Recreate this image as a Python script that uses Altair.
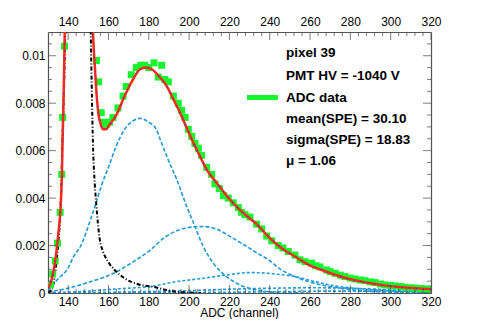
import altair as alt
import pandas as pd

# ---------------- data ----------------
# ADC data (green squares)
data_x = [131.2, 132.3, 133.6, 134.7, 136.0, 136.8, 137.3, 138.2, 154.0, 155.1,
          156.4, 157.6, 158.9, 160.5, 162.2, 164.7, 167.2, 168.8, 171.3, 173.8,
          176, 178, 180, 182.6, 184.7, 186.4, 188, 189.7, 192.2, 194.6,
          196.3, 198, 199.6, 201.3, 202.9, 204.6, 206.2, 208.7, 211.2, 212.8,
          215, 217, 219.4, 221.9, 224.4, 226, 227.7, 230.2, 233.5, 236,
          238.5, 241, 244.2, 246.5, 249.2, 252.5, 255, 257.5, 260.8, 262.8,
          264.9, 268.2, 270, 272.4, 275, 277.3, 280, 282.3, 285, 287.2,
          290, 292.2, 295, 297.2, 300, 302.1, 305, 307.1, 310, 312,
          315, 317.8, 319.5]
data_y = [0.00035, 0.0008, 0.00135, 0.0021, 0.0034, 0.0050, 0.0074, 0.0104, 0.0098, 0.0089,
          0.0076, 0.0072, 0.0071, 0.0072, 0.0074, 0.0078, 0.0083, 0.0087, 0.0092, 0.0095,
          0.0096, 0.0096, 0.0095, 0.0097, 0.0091, 0.0096, 0.0090, 0.0089, 0.0083, 0.0080,
          0.0077, 0.0074, 0.0069, 0.0066, 0.0063, 0.0061, 0.0058, 0.0053, 0.0050, 0.0046,
          0.0044, 0.0041, 0.0040, 0.0038, 0.0036, 0.0034, 0.0033, 0.0032, 0.0029, 0.0027,
          0.0024, 0.0022, 0.0020, 0.0019, 0.00175, 0.0016, 0.0014, 0.00132, 0.00126, 0.00115,
          0.0011, 0.00097, 0.0009, 0.00083, 0.00075, 0.00069, 0.00063, 0.00059, 0.00055, 0.00052,
          0.00047, 0.00044, 0.00038, 0.00034, 0.00032, 0.0003, 0.00027, 0.00024, 0.00022, 0.00021,
          0.00019, 0.00017, 0.00016]

# total fit (red)
fit_x = [130, 131.6, 133.3, 135.0, 136.3, 136.9, 137.2, 137.8, 138.3, 139.5,
         145, 151, 152.3, 153.2, 154.0, 155.1, 156.2, 157.3, 158.8, 160.6,
         163.9, 168.0, 172.2, 175.5, 178.5, 181.5, 185.6, 188.9, 192.2, 195.5,
         198.8, 202.1, 205.4, 208.7, 213.7, 220.3, 226.9, 233.5, 239.3, 245.9,
         252.5, 259.1, 265.8, 272.4, 279.0, 285.6, 292.2, 298.8, 305.4, 312.0, 320]
fit_y = [0.0002, 0.0005, 0.0012, 0.0024, 0.0037, 0.0050, 0.0063, 0.0085, 0.011, 0.016,
         0.04, 0.016, 0.011, 0.0096, 0.0085, 0.0075, 0.0071, 0.0069, 0.0069, 0.0071,
         0.0075, 0.0083, 0.0090, 0.00942, 0.0095, 0.00943, 0.00908, 0.00872, 0.00816, 0.0076,
         0.00696, 0.00633, 0.00576, 0.0052, 0.00464, 0.00393, 0.00337, 0.0029, 0.00238, 0.00189,
         0.00154, 0.0012, 0.00097, 0.00077, 0.0006, 0.00048, 0.00038, 0.0003, 0.00024, 0.0002, 0.00016]

# pedestal (black)
ped_x = [130, 132, 133.5, 134.3, 135.2, 136.0, 136.6, 137.1, 137.9, 138.6,
         140, 145, 150, 151.2, 151.8, 152.3, 153.2, 154.0, 154.8, 155.6,
         157.3, 159.8, 163.1, 168.0, 174.6, 182.9, 188, 193, 200, 206]
ped_y = [0.00002, 0.0002, 0.0008, 0.0014, 0.0022, 0.0032, 0.0045, 0.0063, 0.0085, 0.011,
         0.017, 0.04, 0.017, 0.011, 0.0082, 0.0063, 0.0046, 0.0037, 0.0029, 0.0023,
         0.00175, 0.00132, 0.00097, 0.00062, 0.00037, 0.00025, 0.00014, 0.00006, 0.00002, 0.0]

# n photo-electron components (blue)
pe1_x = [130, 131.6, 135, 139.9, 142.5, 146.5, 151.5, 154.2, 156.4, 160,
         163.9, 168, 172.2, 175.5, 179.6, 183.7, 186, 189.7, 193.8, 198.8,
         202.9, 207, 212, 218.6, 225.2, 231.8, 240, 250, 260]
pe1_y = [0.0001, 0.00025, 0.0006, 0.00104, 0.0015, 0.00203, 0.0032, 0.0039, 0.0045, 0.0053,
         0.0062, 0.0069, 0.00726, 0.00736, 0.00722, 0.0069, 0.0064, 0.0056, 0.0048, 0.00365,
         0.0028, 0.00196, 0.00126, 0.00069, 0.00034, 0.00016, 0.00005, 0.00001, 0.0]
pe2_x = [130, 140, 150, 162.5, 172, 180.6, 187.2, 193.8, 198.5, 202.9,
         207, 213.7, 220.3, 228.6, 233, 239.3, 245.9, 252.5, 259.1, 265.8,
         275.7, 287.2, 300, 320]
pe2_y = [0.00005, 0.0002, 0.00045, 0.00083, 0.0013, 0.0018, 0.0023, 0.00262, 0.00274, 0.00279,
         0.0028, 0.00269, 0.00238, 0.00196, 0.00172, 0.0014, 0.00097, 0.00069, 0.00048, 0.00034,
         0.0002, 0.00008, 0.00003, 0.00001]
pe3_x = [130, 150, 165, 180.6, 193.8, 207, 218.6, 230.2, 236, 242.6,
         252.5, 262.4, 272.4, 282.3, 298.8, 320]
pe3_y = [0.00001, 0.00008, 0.00018, 0.00027, 0.00048, 0.00062, 0.00076, 0.00086, 0.00085, 0.0008,
         0.00069, 0.00048, 0.0003, 0.0002, 0.00009, 0.00003]
pe4_x = [130, 160, 180, 200, 220, 240, 260, 275, 290, 305, 320]
pe4_y = [0.0, 0.00003, 0.00006, 0.0001, 0.00016, 0.0002, 0.00022, 0.00021, 0.00017, 0.00012, 0.00008]
pe5_x = [130, 200, 240, 270, 300, 320]
pe5_y = [0.0, 0.00002, 0.00005, 0.00008, 0.00008, 0.00007]

# axes
x_major = [140, 160, 180, 200, 220, 240, 260, 280, 300, 320]
x_minor = [v for v in range(132, 320, 4) if v % 20 != 0]
y_major = [0, 0.002, 0.004, 0.006, 0.008, 0.01]
y_minor = [round(0.0005 * k, 4) for k in range(1, 22) if k % 4 != 0]
x_title = "ADC (channel)"

legend_labels = ["pixel 39", "PMT HV = -1040 V", "ADC data",
                 "mean(SPE) = 30.10", "sigma(SPE) = 18.83", "\u03bc = 1.06"]

# ---------------- styling ----------------
X_DOMAIN = [130, 320]
Y_DOMAIN = [0, 0.011]
W, H = 383, 261
FONT = "Liberation Sans"
GREEN = "#14f52e"
BLUE = "#1f9bd6"
RED = "#ff2a12"
FRAME = "#555555"

xs = alt.Scale(domain=X_DOMAIN, nice=False, zero=False)
ys = alt.Scale(domain=Y_DOMAIN, nice=False, zero=False)

common = dict(labelFont=FONT, labelFontSize=12, labelColor="black", labelFlush=False,
              domainColor=FRAME, domainWidth=1.2, grid=False, ticks=False, tickSize=0)
bottom_axis = alt.Axis(orient="bottom", values=x_major, format="d", labelPadding=3,
                       title=None, **common)
left_axis = alt.Axis(orient="left", values=y_major, format=".3~f", labelPadding=3,
                     title=None, **common)
top_axis = alt.Axis(orient="top", values=x_major, format="d", labelPadding=4,
                    title=None, **common)
right_axis = alt.Axis(orient="right", labels=False, title=None, **common)


def xy(chart, xa, ya):
    return chart.encode(x=alt.X("x:Q", scale=xs, axis=xa), y=alt.Y("y:Q", scale=ys, axis=ya))


def line(xv, yv, **kw):
    df = pd.DataFrame({"x": xv, "y": yv})
    return xy(alt.Chart(df).mark_line(clip=True, interpolate="monotone", **kw), bottom_axis, left_axis)


def ticks(xv, yv, orient, size, xa, ya):
    df = pd.DataFrame({"x": xv, "y": yv})
    return xy(alt.Chart(df).mark_tick(orient=orient, size=size, thickness=1,
                                      color="#444444", clip=True), xa, ya)


layers = []
for px, py, dash in [(pe5_x, pe5_y, [3, 2]), (pe4_x, pe4_y, [3, 2]), (pe3_x, pe3_y, [3, 2]),
                     (pe2_x, pe2_y, [4, 2]), (pe1_x, pe1_y, [4, 2])]:
    layers.append(line(px, py, color=BLUE, strokeWidth=1.6, strokeDash=dash))
layers.append(line(ped_x, ped_y, color="black", strokeWidth=2, strokeDash=[4, 2, 1, 2]))

ddf = pd.DataFrame({"x": data_x, "y": data_y})
layers.append(xy(alt.Chart(ddf).mark_square(size=49, color=GREEN, opacity=1, clip=True),
                 bottom_axis, left_axis))
layers.append(line(fit_x, fit_y, color=RED, strokeWidth=2.5))
layers.append(line(fit_x, fit_y, color="#2030ff", strokeWidth=1.2, strokeDash=[1, 6]))

# inner ticks (bottom / left)
layers.append(ticks(x_major, [Y_DOMAIN[0]] * len(x_major), "vertical", 16, bottom_axis, left_axis))
layers.append(ticks(x_minor, [Y_DOMAIN[0]] * len(x_minor), "vertical", 8, bottom_axis, left_axis))
layers.append(ticks([X_DOMAIN[0]] * len(y_major), y_major, "horizontal", 16, bottom_axis, left_axis))
layers.append(ticks([X_DOMAIN[0]] * len(y_minor), y_minor, "horizontal", 8, bottom_axis, left_axis))

# x axis title
layers.append(alt.Chart(pd.DataFrame({"t": [x_title]})).mark_text(
    align="center", baseline="middle", font=FONT, fontSize=12, color="black"
).encode(x=alt.value(W / 2), y=alt.value(281), text="t:N"))

# legend text
rows_y = [21, 44, 65.5, 86.5, 108, 129]
for lab, ry in zip(legend_labels, rows_y):
    layers.append(alt.Chart(pd.DataFrame({"t": [lab]})).mark_text(
        align="left", baseline="middle", font=FONT, fontSize=13.5, fontWeight="bold",
        color="black").encode(x=alt.value(238), y=alt.value(ry), text="t:N"))
layers.append(alt.Chart(pd.DataFrame({"t": ["ADC data"]})).mark_rule(
    color=GREEN, strokeWidth=5).encode(x=alt.value(199), x2=alt.value(230), y=alt.value(65.5)))

main = alt.layer(*layers)

secondary = alt.layer(
    ticks(x_major, [Y_DOMAIN[1]] * len(x_major), "vertical", 16, top_axis, right_axis),
    ticks(x_minor, [Y_DOMAIN[1]] * len(x_minor), "vertical", 8, top_axis, right_axis),
    ticks([X_DOMAIN[1]] * len(y_major), y_major, "horizontal", 16, top_axis, right_axis),
    ticks([X_DOMAIN[1]] * len(y_minor), y_minor, "horizontal", 8, top_axis, right_axis),
)

chart = alt.layer(main, secondary).resolve_scale(
    x="independent", y="independent"
).properties(
    width=W, height=H,
    padding={"left": 40, "top": 24, "right": 41, "bottom": 26},
    autosize=alt.AutoSizeParams(type="none"),
).configure_view(stroke=None)

chart.save("out.html", embed_options={"renderer": "svg", "actions": False})
